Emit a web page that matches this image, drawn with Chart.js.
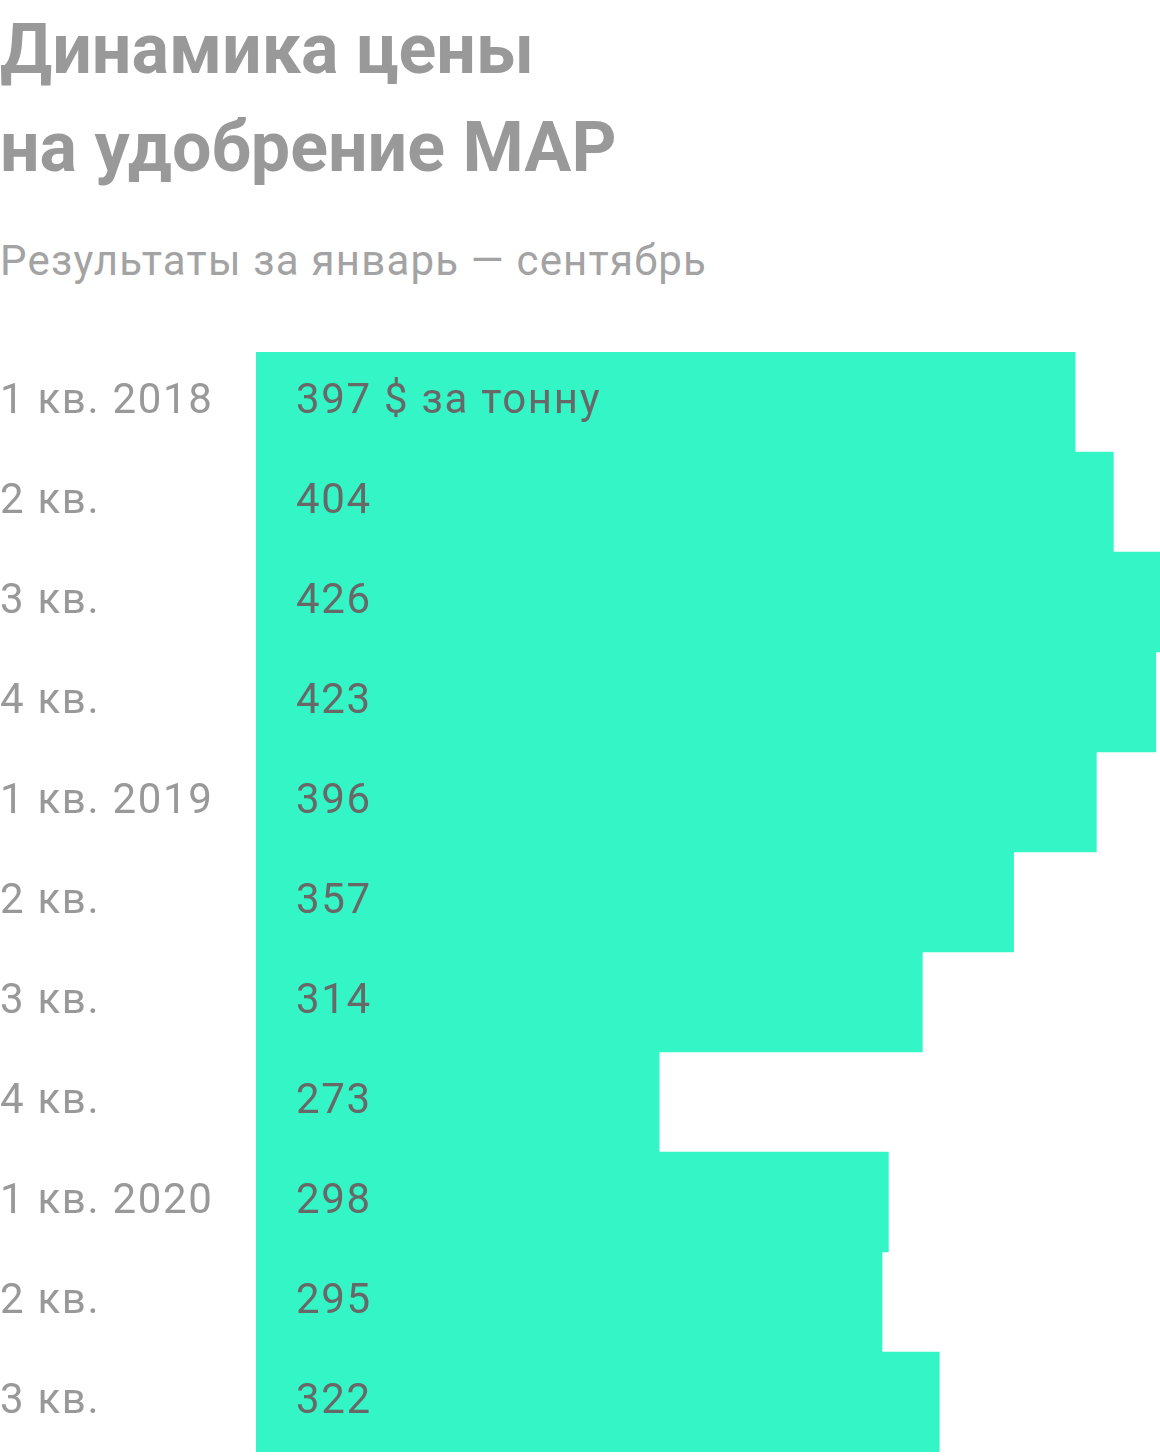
<!DOCTYPE html>
<html>
<head>
<meta charset="utf-8">
<script src="https://cdn.jsdelivr.net/npm/chart.js@4"></script>
<style>
  html, body { margin: 0; padding: 0; background: #fff; }
  body { width: 1160px; height: 1456px; position: relative; overflow: hidden; font-family: Roboto, sans-serif; }
  .title { position: absolute; left: 0; top: 0px; font-weight: 700; font-size: 70px; line-height: 98px; color: #999; }
  .subtitle { position: absolute; left: 0; top: 236px; font-size: 42px; line-height: 50px; color: #a3a3a3; letter-spacing: 1.2px; }
  .wrap { position: absolute; left: 0; top: 352px; width: 1160px; height: 1100px; }
</style>
</head>
<body>
<div class="title">Динамика цены<br>на удобрение MAP</div>
<div class="subtitle">Результаты за январь — сентябрь</div>
<div class="wrap"><canvas id="myChart"></canvas></div>
<script>
const quarters = ['1 кв. 2018', '2 кв.', '3 кв.', '4 кв.', '1 кв. 2019', '2 кв.', '3 кв.', '4 кв.', '1 кв. 2020', '2 кв.', '3 кв.'];
// bar lengths as drawn in the picture
const barValues = [386, 404, 426, 424, 396, 357, 314, 190, 298, 295, 322];
// printed prices, $ per tonne
const priceLabels = ['397 $ за тонну', '404', '426', '423', '396', '357', '314', '273', '298', '295', '322'];

const spacing = {
    id: 'spacing',
    beforeDraw(chart) {
        chart.ctx.letterSpacing = '1.7px';
    }
};

const valueText = {
    id: 'valueText',
    afterDatasetsDraw(chart) {
        const ctx = chart.ctx;
        const meta = chart.getDatasetMeta(0);
        ctx.save();
        ctx.letterSpacing = '1.7px';
        ctx.font = '42px Roboto';
        ctx.fillStyle = '#686868';
        ctx.textBaseline = 'middle';
        ctx.textAlign = 'left';
        meta.data.forEach((bar, i) => {
            ctx.fillText(priceLabels[i], chart.chartArea.left + 40, bar.y);
        });
        ctx.restore();
    }
};

const ctx = document.getElementById('myChart').getContext('2d');

var myChart = new Chart(ctx, {
    type: 'bar',
    data: {
        labels: quarters,
        datasets: [
            {
                data: barValues,
                backgroundColor: '#33f5c5',
                borderWidth: 0,
                categoryPercentage: 1,
                barPercentage: 1
            }
        ]
    },
    options: {
        indexAxis: 'y',
        responsive: true,
        maintainAspectRatio: false,
        animation: false,
        layout: { padding: 0 },
        plugins: {
            legend: { display: false },
            tooltip: { enabled: false }
        },
        scales: {
            x: {
                display: false,
                min: 0,
                max: 426
            },
            y: {
                grid: { display: false },
                border: { display: false },
                ticks: {
                    color: '#999',
                    font: { family: 'Roboto', size: 42 },
                    crossAlign: 'far',
                    padding: 0
                },
                afterFit(scale) {
                    scale.width = 256;
                    scale.paddingTop = 0;
                    scale.paddingBottom = 0;
                }
            }
        }
    },
    plugins: [spacing, valueText]
});
</script>
</body>
</html>
